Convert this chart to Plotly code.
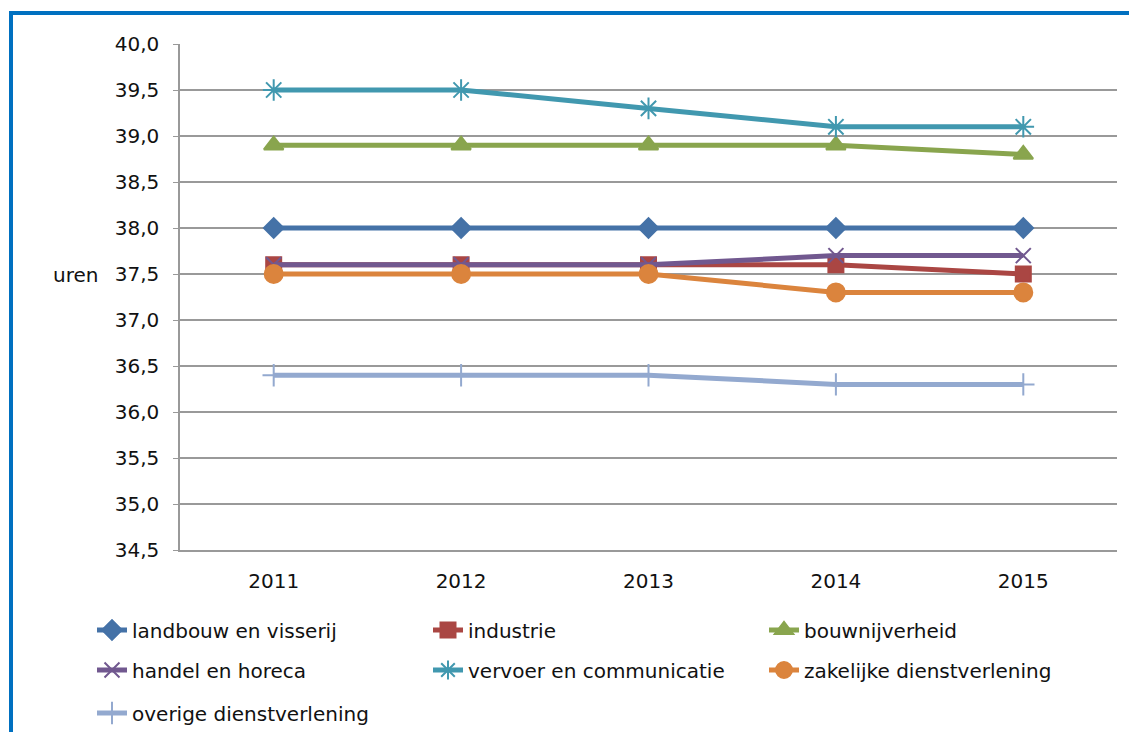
import plotly.graph_objects as go

years = ["2011", "2012", "2013", "2014", "2015"]
landbouw = [38.0, 38.0, 38.0, 38.0, 38.0]
industrie = [37.6, 37.6, 37.6, 37.6, 37.5]
bouw = [38.9, 38.9, 38.9, 38.9, 38.8]
handel = [37.6, 37.6, 37.6, 37.7, 37.7]
vervoer = [39.5, 39.5, 39.3, 39.1, 39.1]
zakelijk = [37.5, 37.5, 37.5, 37.3, 37.3]
overig = [36.4, 36.4, 36.4, 36.3, 36.3]

series = [
    ("landbouw en visserij", landbouw, "#4572A7", "diamond", 15, "legend"),
    ("industrie", industrie, "#AA4643", "square", 15, "legend"),
    ("bouwnijverheid", bouw, "#89A54E", "triangle-up", 17, "legend"),
    ("handel en horeca", handel, "#71588F", "x-thin-open", 15, "legend2"),
    ("vervoer en communicatie", vervoer, "#4198AF", "asterisk-open", 18, "legend2"),
    ("zakelijke dienstverlening", zakelijk, "#DB843D", "circle", 18, "legend2"),
    ("overige dienstverlening", overig, "#93A9CF", "cross-thin-open", 16, "legend3"),
]

# figure is drawn inside the page's 8px body margin
W, H = 1121, 724
L, R, T, B = 172, 12, 36, 182
pw, ph = W - L - R, H - T - B

def px(x):
    return (x - L) / pw

def py(y):
    return (H - B - y) / ph

font = "Verdana, DejaVu Sans, sans-serif"
FS = 20

fig = go.Figure()
for name, vals, col, sym, sz, lg in series:
    fig.add_trace(go.Scatter(
        x=years, y=vals, name=name, mode="lines+markers", legend=lg,
        line=dict(color=col, width=5),
        marker=dict(symbol=sym, size=sz, color=col,
                    line=dict(color=col, width=2)),
    ))

def legend_at(yc):
    return dict(orientation="h", x=px(84), y=py(yc), xanchor="left", yanchor="middle",
                entrywidth=291, entrywidthmode="pixels",
                font=dict(family=font, size=FS, color="#111111"),
                bgcolor="rgba(0,0,0,0)")

fig.update_layout(
    width=W, height=H,
    margin=dict(l=L, r=R, t=T, b=B, autoexpand=False),
    paper_bgcolor="white", plot_bgcolor="white",
    separators=",.",
    font=dict(family=font, size=FS, color="#111111"),
    showlegend=True,
    legend=legend_at(622),
    legend2=legend_at(662),
    legend3=legend_at(705),
    xaxis=dict(type="category", range=[-0.5, 4.5], showgrid=False,
               showline=True, linecolor="#999999", linewidth=1.5,
               ticks="", ticklabelstandoff=12,
               tickfont=dict(family=font, size=FS, color="#111111")),
    yaxis=dict(range=[34.5, 40.0], dtick=0.5, tick0=34.5, tickformat=".1f",
               showgrid=True, gridcolor="#999999", gridwidth=1.5,
               showline=True, linecolor="#999999", linewidth=1.5,
               ticks="outside", ticklen=5, tickcolor="#999999",
               ticklabelstandoff=10, zeroline=False,
               tickfont=dict(family=font, size=FS, color="#111111")),
)

fig.add_annotation(text="uren", xref="paper", yref="paper", x=px(67), y=py(267),
                   xanchor="center", yanchor="middle", showarrow=False,
                   font=dict(family=font, size=FS, color="#111111"))
fig.add_annotation(text="<b>t/m 2013</b>", xref="paper", yref="paper", x=px(209), y=py(4),
                   xanchor="center", yanchor="bottom", showarrow=False,
                   font=dict(family=font, size=22, color="#111111"))

border = "#0070C0"
fig.add_shape(type="line", xref="paper", yref="paper", x0=px(3), x1=px(W + 5),
              y0=py(5), y1=py(5), line=dict(color=border, width=4))
fig.add_shape(type="line", xref="paper", yref="paper", x0=px(3), x1=px(3),
              y0=py(3), y1=py(H + 5), line=dict(color=border, width=4))

fig.write_html("out.html")
